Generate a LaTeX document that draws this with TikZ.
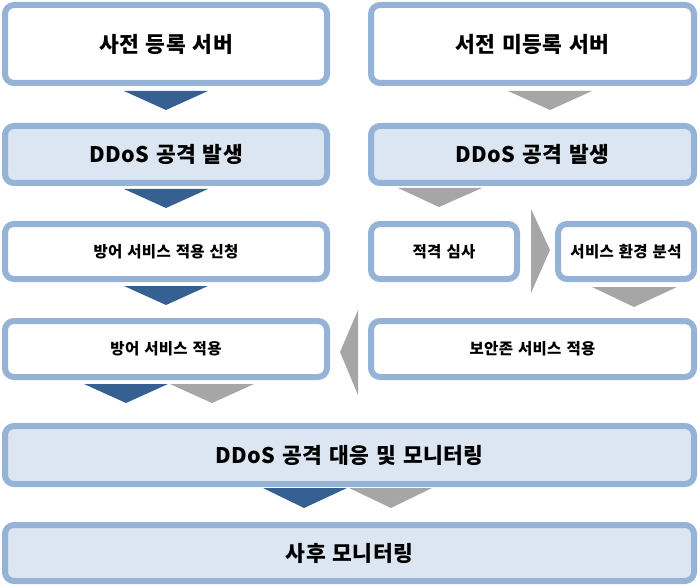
\documentclass[tikz,border=0pt]{standalone}
\usepackage{fontspec}
\setmainfont{Noto Sans CJK KR}[LetterSpace=2,WordSpace=1.3]
\definecolor{bord}{HTML}{95B3D7}
\definecolor{lite}{HTML}{DCE6F2}
\definecolor{darkb}{HTML}{376092}
\definecolor{grayc}{HTML}{A6A6A6}
\begin{document}
\begin{tikzpicture}[x=1pt,y=-1pt,
  box/.style={draw=bord, line width=6pt, rounded corners=9pt, fill=white, inner sep=0pt, align=center, font=\bfseries},
  litebox/.style={box, fill=lite},
  big/.style={font=\fontsize{21.5}{24}\selectfont\bfseries},
  small/.style={font=\fontsize{15.5}{18}\selectfont\bfseries},
  darkarrow/.style={fill=darkb, draw=none},
  grayarrow/.style={fill=grayc, draw=none}]
\useasboundingbox (0,0) rectangle (700,585);
% row 1
\node[box, big, minimum width=322, minimum height=78] (a1) at (166,44) {사전 등록 서버};
\node[box, big, minimum width=323, minimum height=78] (b1) at (532.5,44) {서전 미등록 서버};
% row 2
\node[litebox, big, minimum width=322, minimum height=57] (a2) at (166,154.5) {DDoS 공격 발생};
\node[litebox, big, minimum width=323, minimum height=57] (b2) at (532.5,154.5) {DDoS 공격 발생};
% row 3
\node[box, small, minimum width=322, minimum height=55] (a3) at (166,251.5) {방어 서비스 적용 신청};
\node[box, small, minimum width=146, minimum height=55] (b3) at (444,251.5) {적격 심사};
\node[box, small, minimum width=136, minimum height=55] (c3) at (626,251.5) {서비스 환경 분석};
% row 4
\node[box, small, minimum width=322, minimum height=56] (a4) at (166,349) {방어 서비스 적용};
\node[box, small, minimum width=323, minimum height=56] (b4) at (532.5,349) {보안존 서비스 적용};
% row 5, 6
\node[litebox, big, minimum width=689, minimum height=58] (r5) at (349.5,455) {DDoS 공격 대응 및 모니터링};
\node[litebox, big, minimum width=689, minimum height=56] (r6) at (349.5,553) {사후 모니터링};
% chevrons
\fill[darkarrow] (124,91) -- (208,91) -- (166,110) -- cycle;
\fill[grayarrow] (508,91) -- (592,91) -- (550,110) -- cycle;
\fill[darkarrow] (124,189) -- (208,189) -- (166,208) -- cycle;
\fill[grayarrow] (398,188) -- (482,188) -- (439,207) -- cycle;
\fill[grayarrow] (531,209) -- (550,250) -- (531,293) -- cycle;
\fill[grayarrow] (592,287) -- (677,287) -- (634,307) -- cycle;
\fill[darkarrow] (124,286) -- (208,286) -- (166,305) -- cycle;
\fill[grayarrow] (358,310) -- (340,352) -- (358,395) -- cycle;
\fill[darkarrow] (84,384) -- (168,384) -- (126,403) -- cycle;
\fill[grayarrow] (170,384) -- (254,384) -- (212,403) -- cycle;
\fill[darkarrow] (263,488) -- (347,488) -- (304,508) -- cycle;
\fill[grayarrow] (349,488) -- (432,488) -- (391,508) -- cycle;
\end{tikzpicture}
\end{document}
